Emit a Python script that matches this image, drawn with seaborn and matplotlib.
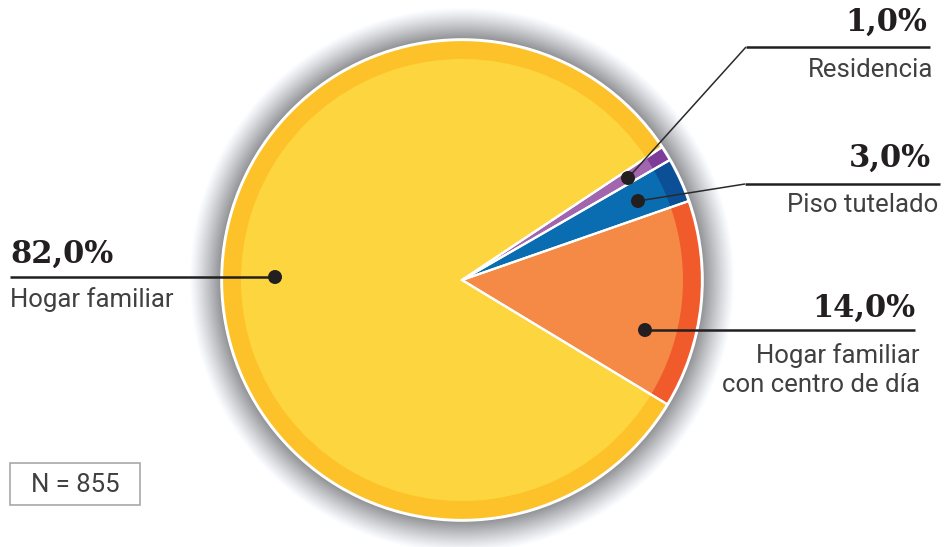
import numpy as np
import matplotlib
matplotlib.use("Agg")
import matplotlib.pyplot as plt
from matplotlib.patches import Circle, Rectangle
import seaborn as sns

# Data
categories = ["Hogar familiar\ncon centro de día", "Piso tutelado", "Residencia", "Hogar familiar"]
values = [14.0, 3.0, 1.0, 82.0]
value_labels = ["14,0%", "3,0%", "1,0%", "82,0%"]
sample_label = "N = 855"

# Colours: outer ring (darker) and inner body (lighter) of each wedge
ring_colors = ["#F15A2B", "#0B4F96", "#7C3C97", "#FDC22A"]
body_colors = ["#F48A45", "#0A6DB1", "#A266AE", "#FDD63F"]

sns.set_theme(style="white")
plt.rcParams["font.family"] = ["Roboto", "DejaVu Sans"]

W, H = 944, 547
fig = plt.figure(figsize=(W / 100, H / 100), dpi=100)
ax = fig.add_axes([0, 0, 1, 1])


def Y(y):
    """Convert a top-down pixel row to the axes' bottom-up coordinate."""
    return H - y


cx, cy = 462, Y(280)
R, R_in = 240, 221
start = -31.2

# Soft grey halo around the pie (light at the outside, darker towards the rim)
halo = 31
for d in np.linspace(halo, 0, 80):
    t = 1 - d / halo
    g = 255 - 108 * t ** 1.15
    rgb = tuple(min(1.0, c / 255) for c in (g, g + 1, g + 4))
    ax.add_patch(Circle((cx, cy), R + 1.8 + d, color=rgb, lw=0, zorder=1))
ax.add_patch(Circle((cx, cy), R + 1.8, color="white", lw=0, zorder=1.5))

# Outer ring, inner body, then white wedge separators on top
outer, _ = ax.pie(values, colors=ring_colors, startangle=start, counterclock=True,
                  radius=R, center=(cx, cy), wedgeprops=dict(lw=0), frame=True)
inner, _ = ax.pie(values, colors=body_colors, startangle=start, counterclock=True,
                  radius=R_in, center=(cx, cy), wedgeprops=dict(lw=0), frame=True)
seps, _ = ax.pie(values, colors=["none"] * 4, startangle=start, counterclock=True,
                 radius=R, center=(cx, cy),
                 wedgeprops=dict(lw=1.6, edgecolor="white", fill=False), frame=True)
for group, z in ((outer, 2), (inner, 3), (seps, 4)):
    for w in group:
        w.set_zorder(z)

ax.set_xlim(0, W)
ax.set_ylim(0, H)
ax.set_aspect("equal")
ax.axis("off")

ink = "#231F20"
txt = "#404040"
pct_font = dict(family="DejaVu Serif", weight="bold", size=22, color=ink)
lbl_font = dict(family=["Roboto", "DejaVu Sans"], weight="normal", size=18.5, color=txt)

# Leader layout: dot position, elbow path, label anchors
leaders = [
    # 14,0%
    dict(dot=(645, 330), path=[(645, 330), (915, 330)],
         pct=(915, 308, "right"), lbl=(920, 370, "right")),
    # 3,0%
    dict(dot=(638, 201), path=[(638, 201), (745, 184), (940, 184)],
         pct=(931, 158, "right"), lbl=(938, 205, "right")),
    # 1,0%
    dict(dot=(628, 178), path=[(628, 178), (746, 47), (930, 47)],
         pct=(927, 22, "right"), lbl=(933, 70, "right")),
    # 82,0%
    dict(dot=(275, 277), path=[(10, 277), (275, 277)],
         pct=(10, 254, "left"), lbl=(10, 300, "left")),
]

for cat, vlab, ld in zip(categories, value_labels, leaders):
    xs = [p[0] for p in ld["path"]]
    ys = [Y(p[1]) for p in ld["path"]]
    for i in range(len(xs) - 1):
        horiz = ys[i] == ys[i + 1]
        ax.plot(xs[i:i + 2], ys[i:i + 2], color=ink if horiz else "#2a2a2a",
                lw=1.8 if horiz else 1.1, solid_capstyle="butt", zorder=5)
    ax.add_patch(Circle((ld["dot"][0], Y(ld["dot"][1])), 7, color=ink, lw=0, zorder=6))
    px, py, ha = ld["pct"]
    ax.text(px, Y(py), vlab, ha=ha, va="center", zorder=7, **pct_font)
    lx, ly, ha = ld["lbl"]
    ax.text(lx, Y(ly), cat, ha=ha, va="center", linespacing=1.22, zorder=7, **lbl_font)

# Sample size box
ax.add_patch(Rectangle((10, Y(505)), 130, 42, fill=False, edgecolor="#A8A8A8", lw=1.2, zorder=5))
ax.text(75, Y(485), sample_label, ha="center", va="center", zorder=7,
        family=["Roboto", "DejaVu Sans"], weight="normal", size=18.5, color=txt)

fig.savefig("out.png", dpi=100, facecolor="white")
